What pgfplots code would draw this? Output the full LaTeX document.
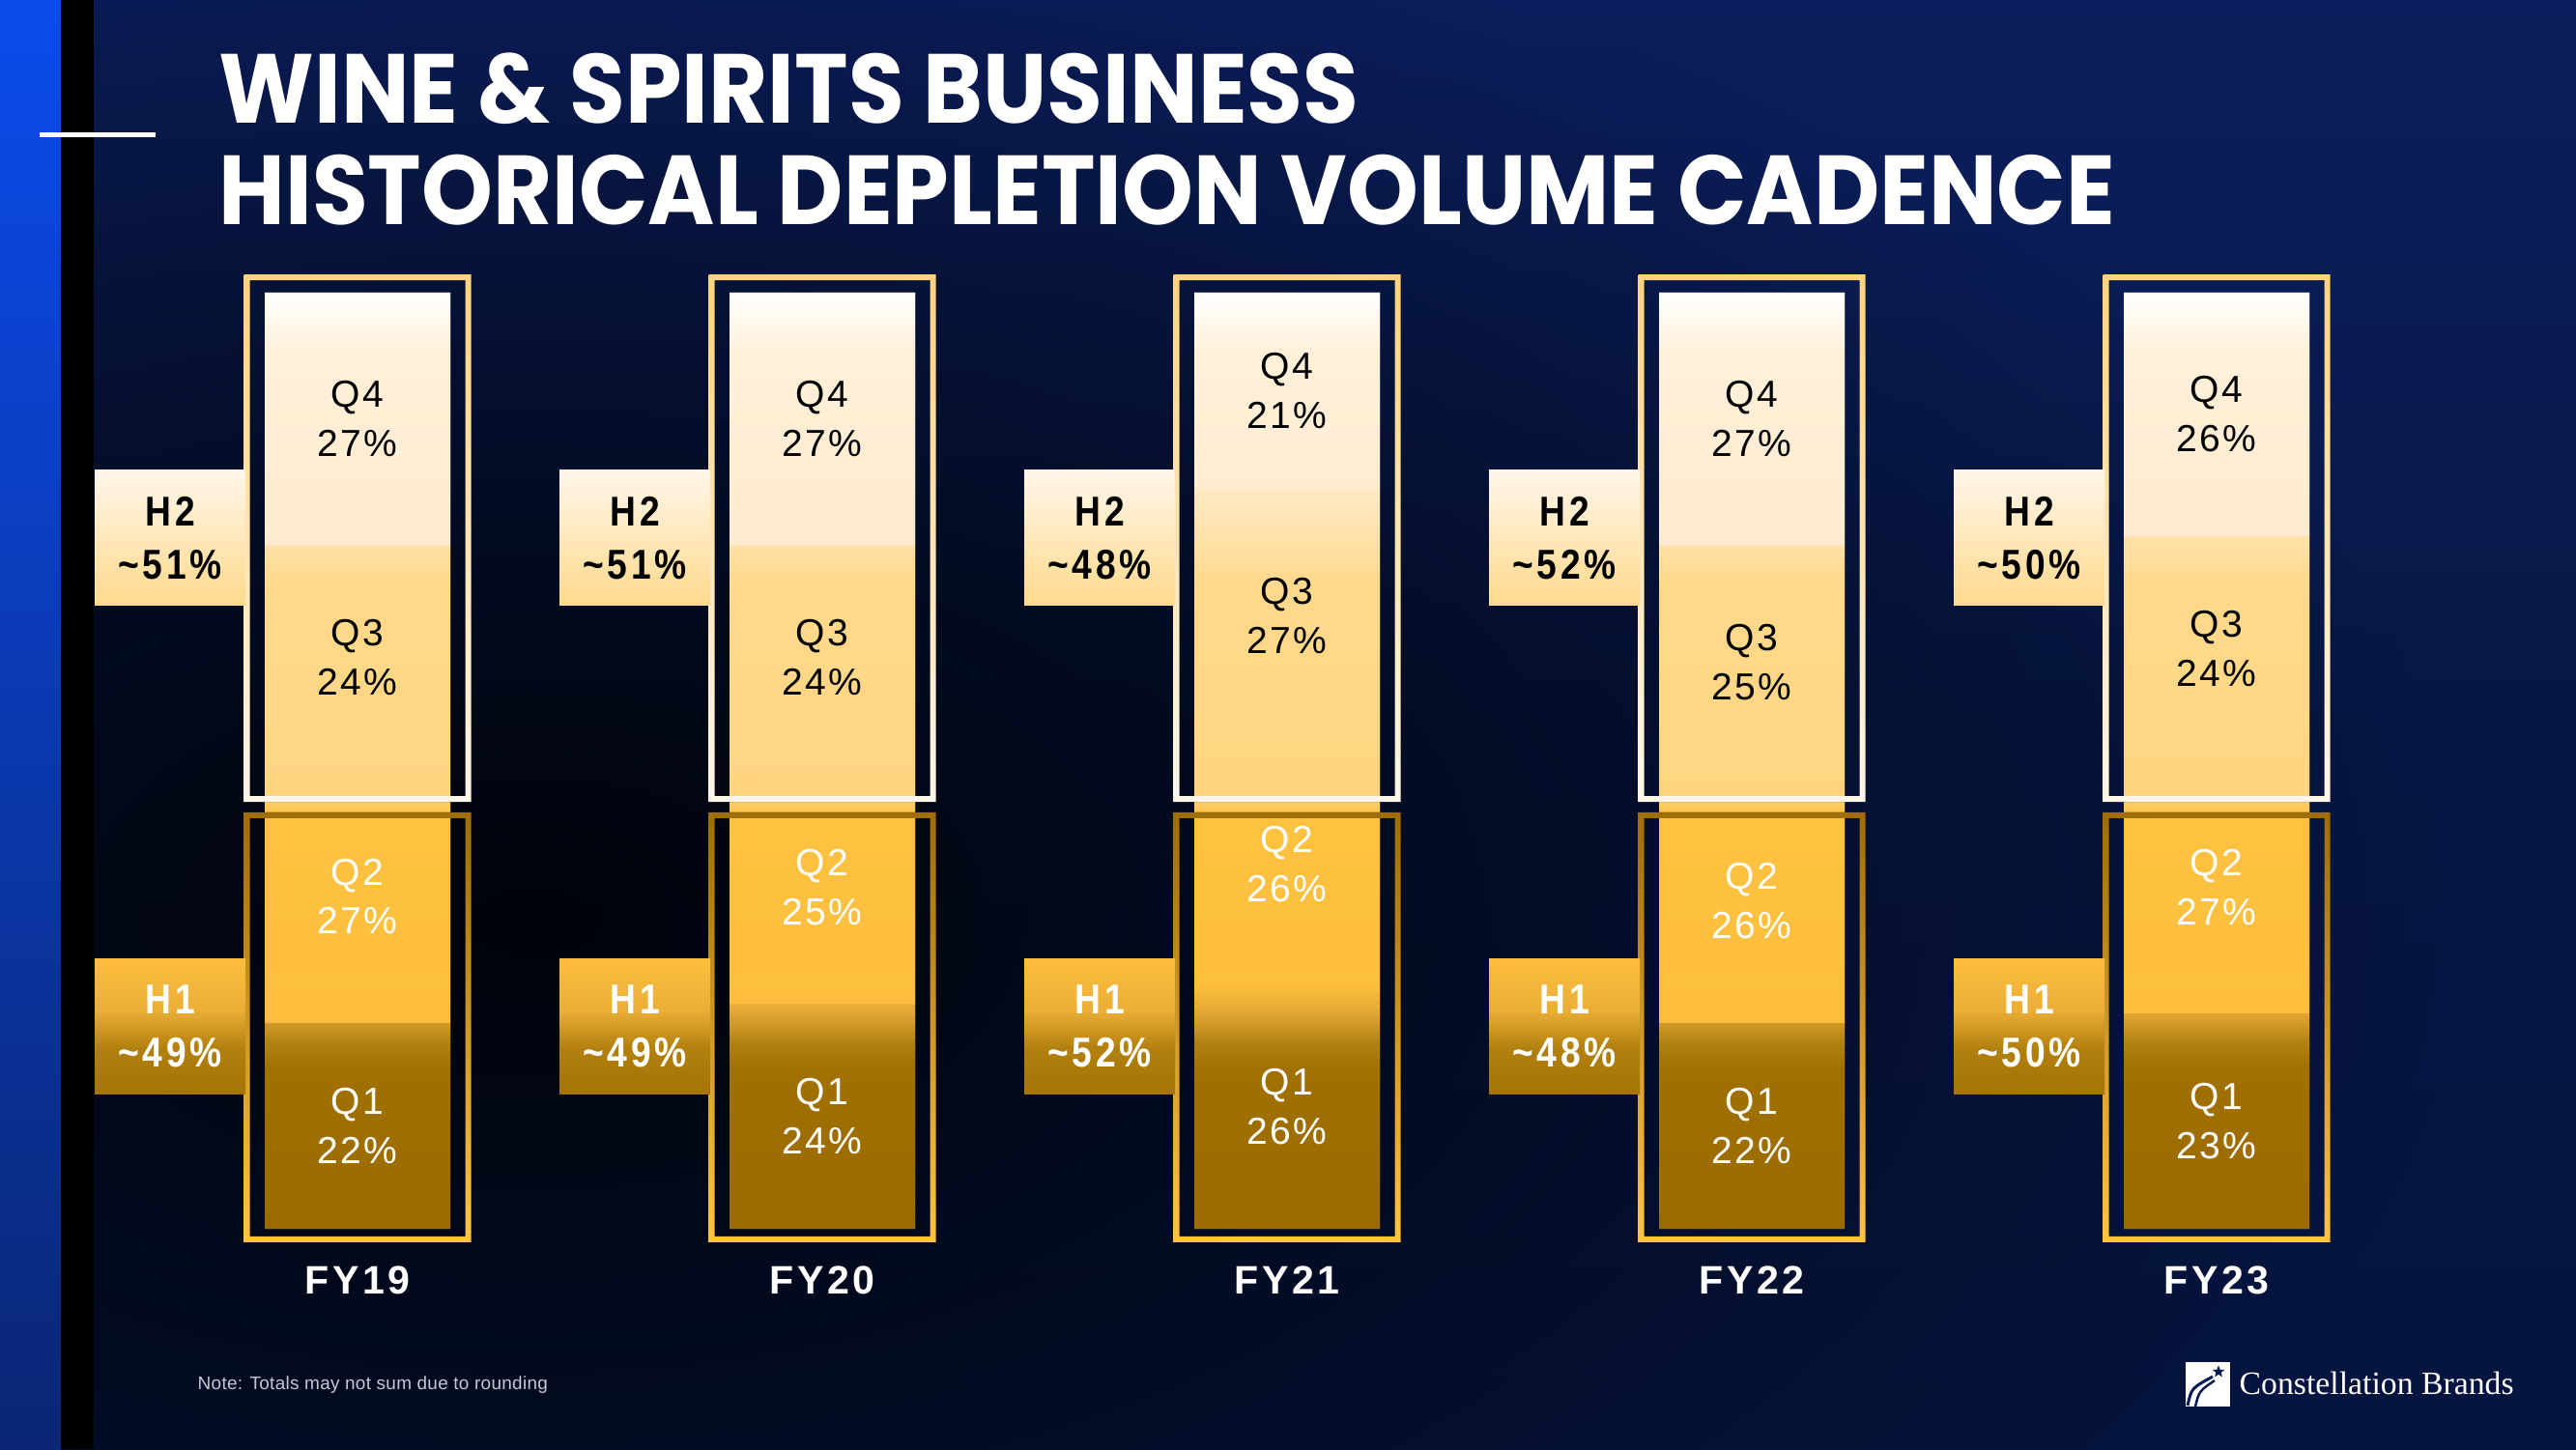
\documentclass[border=0pt]{standalone}
\usepackage{pgfplots}
\pgfplotsset{compat=1.18}
\usepackage{pgfplotstable}
\usepackage{fontspec}
\usetikzlibrary{fadings,shapes.geometric}
\setmainfont{Liberation Sans}
\newfontfamily\titlefont{Poppins}[FakeStretch=0.925]
\newfontfamily\qfont{Liberation Sans}[LetterSpace=6]
\newfontfamily\hfont{Liberation Sans}[LetterSpace=9, FakeStretch=0.86]
\newfontfamily\fyfont{Liberation Sans}[LetterSpace=8]
\newfontfamily\notefont{Liberation Sans}[LetterSpace=1.5]
\newfontfamily\logofont{Liberation Serif}

\definecolor{bgA}{HTML}{0B1F5E}
\definecolor{bgB}{HTML}{071744}
\definecolor{bgC}{HTML}{06153F}
\definecolor{blueA}{HTML}{0B4BEB}
\definecolor{blueB}{HTML}{0A2674}
\definecolor{navy}{HTML}{0A1A55}
\definecolor{notegray}{HTML}{C4C8D4}
\definecolor{qa}{HTML}{FFFFFF}
\definecolor{qc}{HTML}{FFF0D8}
\definecolor{qc2}{HTML}{FFECD0}
\definecolor{sA}{HTML}{FFE9C4}
\definecolor{qd1}{HTML}{FFE2AC}
\definecolor{qd}{HTML}{FFD98C}
\definecolor{qe}{HTML}{FFD682}
\definecolor{sB}{HTML}{FFD480}
\definecolor{qf}{HTML}{FFC240}
\definecolor{qg}{HTML}{FDBF3D}
\definecolor{sC}{HTML}{FDBE3D}
\definecolor{t1}{HTML}{E0A432}
\definecolor{t2}{HTML}{B08010}
\definecolor{qj}{HTML}{A07000}
\definecolor{qk}{HTML}{9C6B00}
\definecolor{hA}{HTML}{FDBE3E}
\definecolor{hB}{HTML}{EBAE36}
\definecolor{hC}{HTML}{B2800E}
\definecolor{hD}{HTML}{A67405}
\definecolor{frAtop}{HTML}{FFD37E}
\definecolor{frAbot}{HTML}{FFF6EA}
\definecolor{frBtop}{HTML}{9E6D08}
\definecolor{frBbot}{HTML}{FFC445}

% 25bp = bottom of a bar segment, 75bp = its top
\pgfdeclareverticalshading{q4sh}{100bp}{color(0bp)=(qc2); color(25bp)=(qc2); color(63bp)=(qc); color(75bp)=(qa); color(100bp)=(qa)}
\pgfdeclareverticalshading{q3sh}{100bp}{color(0bp)=(qe); color(25bp)=(qe); color(59bp)=(qd); color(67bp)=(qd1); color(75bp)=(sA); color(100bp)=(sA)}
\pgfdeclareverticalshading{q2sh}{100bp}{color(0bp)=(qg); color(25bp)=(qg); color(62bp)=(qf); color(65.5bp)=(sB); color(75bp)=(qe); color(100bp)=(qe)}
\pgfdeclareverticalshading{q1sh}{100bp}{color(0bp)=(qk); color(25bp)=(qk); color(58bp)=(qj); color(63bp)=(t2); color(69bp)=(t1); color(75bp)=(sC); color(100bp)=(sC)}
\pgfdeclareverticalshading{backsh}{100bp}{color(0bp)=(qk); color(25bp)=(qk); color(36bp)=(sC); color(49.5bp)=(qe); color(61.5bp)=(sA); color(75bp)=(qa); color(100bp)=(qa)}
\pgfdeclareverticalshading{h1sh}{100bp}{color(0bp)=(hD); color(25bp)=(hD); color(42bp)=(hC); color(56bp)=(hB); color(75bp)=(hA); color(100bp)=(hA)}
\tikzfading[name=softspot, inner color=transparent!0, outer color=transparent!100]

\pgfplotstableread{
x fy Q1 Q2 Q3 Q4
0 FY19 22 27 24 27
1 FY20 24 25 24 27
2 FY21 26 26 27 21
3 FY22 22 26 25 27
4 FY23 23 27 24 26
}\data
\pgfplotstablecreatecol[create col/expr={\thisrow{Q1}/2}]{m1}\data
\pgfplotstablecreatecol[create col/expr={\thisrow{Q1}+\thisrow{Q2}/2}]{m2}\data
\pgfplotstablecreatecol[create col/expr={\thisrow{Q1}+\thisrow{Q2}+\thisrow{Q3}/2}]{m3}\data
\pgfplotstablecreatecol[create col/expr={\thisrow{Q1}+\thisrow{Q2}+\thisrow{Q3}+\thisrow{Q4}/2}]{m4}\data
\pgfplotstablecreatecol[create col/expr={\thisrow{Q1}+\thisrow{Q2}+\thisrow{Q3}+\thisrow{Q4}}]{tot}\data
\pgfplotstablecreatecol[create col/expr={\thisrow{Q1}+\thisrow{Q2}}]{H1}\data
\pgfplotstablecreatecol[create col/expr={\thisrow{Q3}+\thisrow{Q4}}]{H2}\data

\pgfplotsset{
  slide/.style={at={(12.95mm,22.8mm)}, anchor=south west,
    scale only axis, width=240.5mm, height=96.9mm,
    xmin=-0.5, xmax=4.5, ymin=0, ymax=100,
    /pgf/number format/assume math mode=true},
  qlab/.style={draw=none, fill=none, point meta=explicit symbolic,
    every node near coord/.append style={anchor=center, align=center, inner sep=0pt,
      text=#1, font=\qfont\fontsize{11.1}{14.5}\selectfont}},
}

\begin{document}
\begin{tikzpicture}
\useasboundingbox (0,0) rectangle (266.6mm,150mm);
% background
\fill[top color=bgA, bottom color=bgC, middle color=bgB] (0,0) rectangle (266.6mm,150mm);
\fill[black, opacity=0.85, path fading=softspot] (55mm,55mm) ellipse [x radius=200mm, y radius=110mm];
\fill[top color=blueA, bottom color=blueB] (0,0) rectangle (6.3mm,150mm);
\fill[black] (6.3mm,0) rectangle (9.7mm,150mm);
\fill[white] (4.1mm,135.8mm) rectangle (16.1mm,136.3mm);
% title
\node[anchor=base west, inner sep=0, text=white] at (22.6mm,137.2mm)
  {\titlefont\bfseries\fontsize{28.9}{30}\selectfont WINE \& SPIRITS BUSINESS};
\node[anchor=base west, inner sep=0, text=white] at (22.6mm,126.7mm)
  {\titlefont\bfseries\fontsize{28.9}{30}\selectfont HISTORICAL DEPLETION VOLUME CADENCE};
% note
\node[anchor=base west, inner sep=0, text=notegray] at (20.4mm,6.2mm)
  {\notefont\fontsize{5.4}{6}\selectfont Note: Totals may not sum due to rounding};
% logo
\fill[white] (226.2mm,4.4mm) rectangle (230.8mm,9.0mm);
\node[star, star points=5, star point ratio=2.3, fill=navy, inner sep=0pt, minimum size=1.3mm] at (229.6mm,8.0mm) {};
\draw[navy, line width=0.3mm] (226.4mm,4.5mm) .. controls (226.8mm,6.3mm) .. (229.0mm,7.5mm);
\draw[navy, line width=0.25mm] (227.2mm,4.4mm) .. controls (227.6mm,6.0mm) .. (229.2mm,7.1mm);
\node[anchor=base west, inner sep=0, text=white] at (231.7mm,5.7mm)
  {\logofont\fontsize{9.6}{12}\selectfont Constellation Brands};

% backing bar (hides seams between segments)
\begin{axis}[slide, hide axis, ybar, bar width=19.2mm, bar shift=0pt]
\addplot[draw=none, shade, shading=backsh] table[x=x,y=tot]{\data};
\end{axis}

% stacked bars
\begin{axis}[slide,
  ybar stacked, bar width=19.2mm,
  axis line style={draw=none}, major tick length=0pt,
  ytick=\empty, xtick={0,...,4},
  xticklabels from table={\data}{fy},
  xticklabel style={font=\fyfont\bfseries\fontsize{11.7}{14}\selectfont, text=white,
    anchor=base, yshift=-6.7mm, inner sep=0pt},
]
\addplot[draw=none, shade, shading=q1sh] table[x=x,y=Q1]{\data};
\addplot[draw=none, shade, shading=q2sh] table[x=x,y=Q2]{\data};
\addplot[draw=none, shade, shading=q3sh] table[x=x,y=Q3]{\data};
\addplot[draw=none, shade, shading=q4sh] table[x=x,y=Q4]{\data};
\end{axis}

% frames and labels
\begin{axis}[slide, hide axis, clip=false, ybar, bar width=0pt, bar shift=0pt]
\pgfplotsinvokeforeach{0,...,4}{
  \fill[even odd rule, top color=frAtop, bottom color=frAbot]
    ([xshift=-11.75mm]axis cs:#1,101.96) rectangle ([xshift=11.75mm]axis cs:#1,45.61)
    ([xshift=-11.15mm]axis cs:#1,101.34) rectangle ([xshift=11.15mm]axis cs:#1,46.23);
  \fill[even odd rule, top color=frBtop, bottom color=frBbot]
    ([xshift=-11.75mm]axis cs:#1,44.48) rectangle ([xshift=11.75mm]axis cs:#1,-1.44)
    ([xshift=-11.15mm]axis cs:#1,43.86) rectangle ([xshift=11.15mm]axis cs:#1,-0.82);
}
\addplot[qlab=white, nodes near coords={Q1\\\pgfplotspointmeta\%}] table[x=x,y=m1,meta=Q1]{\data};
\addplot[qlab=white, nodes near coords={Q2\\\pgfplotspointmeta\%}] table[x=x,y=m2,meta=Q2]{\data};
\addplot[qlab=black, nodes near coords={Q3\\\pgfplotspointmeta\%}] table[x=x,y=m3,meta=Q3]{\data};
\addplot[qlab=black, nodes near coords={Q4\\\pgfplotspointmeta\%}] table[x=x,y=m4,meta=Q4]{\data};
\addplot[draw=none, fill=none, point meta=explicit,
  nodes near coords={H2\\\textasciitilde\pgfmathprintnumber{\pgfplotspointmeta}\%},
  every node near coord/.append style={anchor=center, align=center, inner sep=0pt,
    xshift=-19.4mm, minimum width=15.6mm, minimum height=14mm,
    top color=frAbot, bottom color=qd, text=black,
    font=\hfont\bfseries\fontsize{12.3}{15.6}\selectfont}]
  table[x=x, y expr=73.8, meta=H2]{\data};
\addplot[draw=none, fill=none, point meta=explicit,
  nodes near coords={H1\\\textasciitilde\pgfmathprintnumber{\pgfplotspointmeta}\%},
  every node near coord/.append style={anchor=center, align=center, inner sep=0pt,
    xshift=-19.4mm, minimum width=15.6mm, minimum height=14mm,
    shade, shading=h1sh, text=white,
    font=\hfont\bfseries\fontsize{12.3}{15.6}\selectfont}]
  table[x=x, y expr=21.6, meta=H1]{\data};
\end{axis}
\end{tikzpicture}
\end{document}
